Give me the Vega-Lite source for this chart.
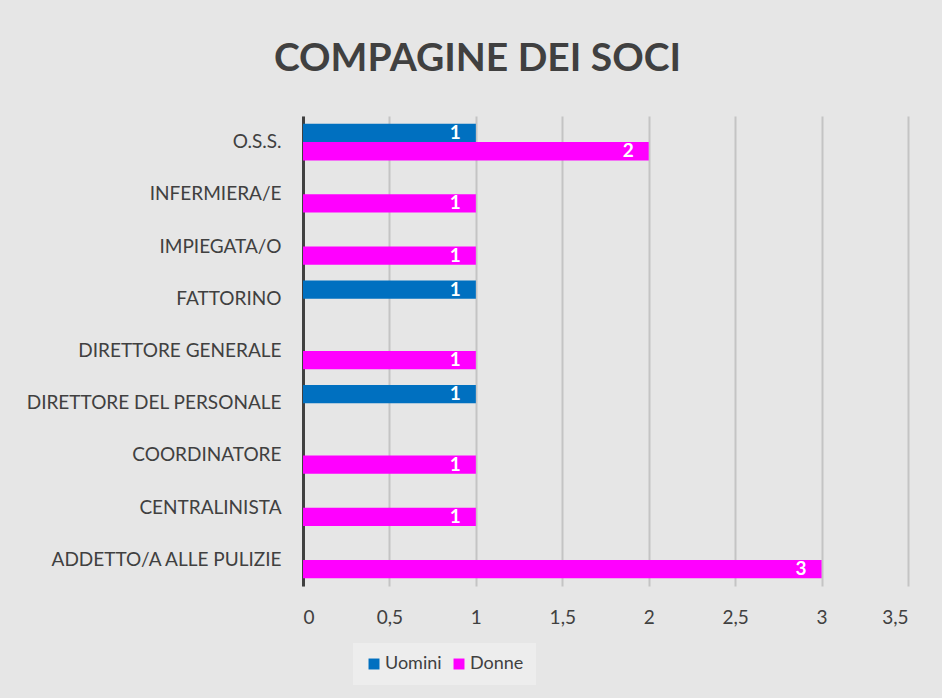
{
  "$schema": "https://vega.github.io/schema/vega-lite/v6.json",
  "width": 605,
  "height": 470,
  "padding": {"left": 20, "top": 40, "right": 34, "bottom": 14},
  "background": "#e6e6e6",
  "title": {
    "text": "COMPAGINE DEI SOCI",
    "font": "Lato",
    "fontSize": 39,
    "fontWeight": "bold",
    "color": "#404040",
    "anchor": "middle",
    "frame": "group",
    "dx": -128,
    "offset": 37
  },
  "data": {
    "values": [
      {"categoria": "O.S.S.", "serie": "Uomini", "valore": 1},
      {"categoria": "O.S.S.", "serie": "Donne", "valore": 2},
      {"categoria": "INFERMIERA/E", "serie": "Donne", "valore": 1},
      {"categoria": "IMPIEGATA/O", "serie": "Donne", "valore": 1},
      {"categoria": "FATTORINO", "serie": "Uomini", "valore": 1},
      {"categoria": "DIRETTORE GENERALE", "serie": "Donne", "valore": 1},
      {"categoria": "DIRETTORE DEL PERSONALE", "serie": "Uomini", "valore": 1},
      {"categoria": "COORDINATORE", "serie": "Donne", "valore": 1},
      {"categoria": "CENTRALINISTA", "serie": "Donne", "valore": 1},
      {"categoria": "ADDETTO/A ALLE PULIZIE", "serie": "Donne", "valore": 3}
    ]
  },
  "encoding": {
    "y": {
      "field": "categoria",
      "type": "nominal",
      "sort": ["O.S.S.", "INFERMIERA/E", "IMPIEGATA/O", "FATTORINO", "DIRETTORE GENERALE", "DIRETTORE DEL PERSONALE", "COORDINATORE", "CENTRALINISTA", "ADDETTO/A ALLE PULIZIE"],
      "scale": {"paddingInner": 0.3, "paddingOuter": 0.15},
      "axis": {
        "title": null,
        "labelFont": "Lato",
        "labelFontSize": 19,
        "labelColor": "#404040",
        "labelLimit": 300,
        "ticks": false,
        "labelPadding": 22,
        "domainColor": "#404040",
        "domainWidth": 3,
        "minExtent": 283,
        "maxExtent": 283
      }
    },
    "yOffset": {
      "field": "serie",
      "type": "nominal",
      "sort": ["Uomini", "Donne"]
    },
    "x": {
      "field": "valore",
      "type": "quantitative",
      "scale": {"domain": [0, 3.5], "nice": false},
      "axis": {
        "title": null,
        "values": [0, 0.5, 1, 1.5, 2, 2.5, 3, 3.5],
        "labelExpr": "replace(format(datum.value, '~g'), '.', ',')",
        "labelFont": "Lato",
        "labelFontSize": 19,
        "labelColor": "#404040",
        "labelPadding": 22,
        "domain": false,
        "ticks": false,
        "grid": true,
        "gridColor": "#c4c4c4",
        "gridWidth": 2
      }
    }
  },
  "layer": [
    {
      "mark": {"type": "bar"},
      "encoding": {
        "color": {
          "field": "serie",
          "type": "nominal",
          "scale": {"domain": ["Uomini", "Donne"], "range": ["#0070C0", "#FF00FF"]},
          "legend": {
            "title": null,
            "orient": "none",
            "direction": "horizontal",
            "legendX": 50,
            "legendY": 527,
            "symbolType": "square",
            "symbolSize": 120,
            "symbolStrokeWidth": 0,
            "labelFont": "Lato",
            "labelFontSize": 18,
            "labelColor": "#404040",
            "fillColor": "#ededed",
            "padding": 12,
            "columnPadding": 8,
            "labelOffset": 2
          }
        }
      }
    },
    {
      "mark": {"type": "text", "align": "right", "dx": -15, "font": "Lato", "fontSize": 19, "fontWeight": "bold", "color": "white"},
      "encoding": {
        "text": {"field": "valore", "type": "quantitative"}
      }
    }
  ],
  "config": {
    "view": {"stroke": null}
  }
}
